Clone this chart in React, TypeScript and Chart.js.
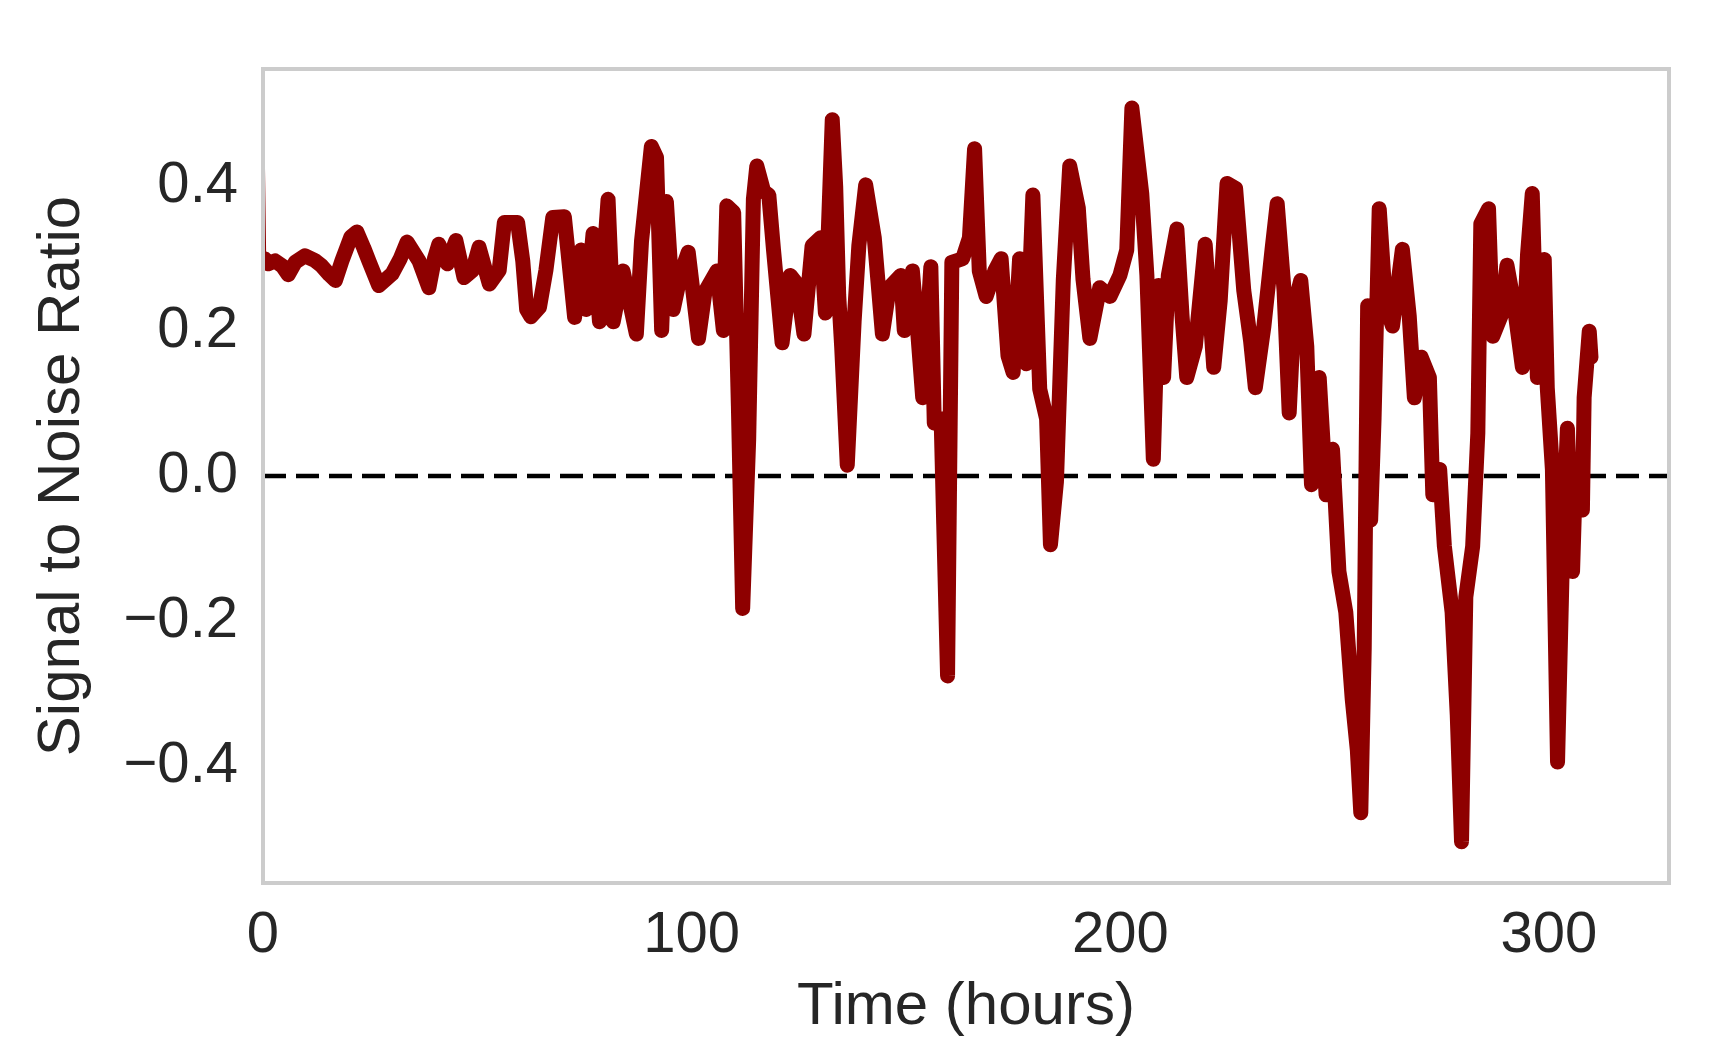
import React, { useEffect, useRef } from 'react';
import { Chart, registerables } from 'chart.js';

Chart.register(...registerables);

// Time in hours (x) and signal-to-noise ratio (y)
const hours = [
  0, 0.4, 1.2, 2.8, 4.5, 5.9, 7.5, 9.8, 12, 13.7, 15.5, 16.9, 18.4, 20.5, 21.9, 23.5, 24.7, 27, 30.1, 32,
  33.6, 36.4, 38.7, 40, 41, 43, 45, 46.9, 48.9, 50.4, 52.8, 55.1, 56.3, 59.4, 60.6, 61.5, 62.5, 64.5, 66, 67.6,
  70.3, 71.1, 72.7, 74.2, 75.4, 77, 78.5, 80.5, 81.7, 84, 87.1, 88.3, 90.6, 91.8, 93, 94.1, 95.7, 97.5, 99.2, 101.6,
  103.1, 105.9, 107.4, 108.2, 109.8, 110.9, 111.9, 113.3, 114.4, 115.2, 116.8, 118, 119.1, 121.1, 123, 124.6, 126.2, 128.1, 130.1, 131.2,
  132.8, 133.6, 134.3, 135, 136.3, 137.9, 139, 140.6, 142.6, 144.5, 146.1, 148.8, 149.6, 151.5, 152.7, 153.9, 155.8, 156.6, 158.2, 158.8,
  159.7, 160.7, 163.2, 164.8, 166, 167.1, 168.7, 170.7, 172.2, 173.8, 175, 176.5, 178.1, 179.6, 181.2, 182.8, 183.7, 185.1, 186.7, 188.2,
  190.2, 191.3, 192.9, 195.2, 197.6, 199.9, 201.5, 202.7, 205, 206.2, 207.7, 208.9, 210.1, 211.2, 213.2, 214.4, 215.5, 217.5, 219.8, 221.8,
  223.3, 224.9, 226.9, 228.8, 230.4, 231.5, 233.5, 235.4, 236.6, 238.2, 239.4, 240.6, 242.1, 243.5, 244.6, 246.4, 248, 249.5, 251, 252.6,
  254.1, 255.3, 256.1, 256.9, 257.7, 258.4, 259.2, 260.4, 261.9, 263.5, 265.8, 267.4, 268.6, 270.2, 272.1, 272.9, 274.5, 275.6, 277.4, 278.6,
  279.6, 280.6, 282.2, 283.4, 284.1, 285.9, 286.9, 288.8, 290.2, 291.9, 293.8, 295, 296.1, 297.3, 298.9, 299.6, 300.8, 302, 303.2, 304.3,
  305.5, 306.3, 307.8, 308.2, 309.4, 309.8,
];

const snr = [
  0.477, 0.3, 0.293, 0.297, 0.29, 0.278, 0.295, 0.304, 0.298, 0.29, 0.278, 0.27, 0.297, 0.33, 0.337, 0.315, 0.297, 0.263, 0.279, 0.3,
  0.323, 0.297, 0.26, 0.3, 0.32, 0.293, 0.325, 0.274, 0.284, 0.316, 0.265, 0.284, 0.35, 0.35, 0.297, 0.23, 0.22, 0.233, 0.284, 0.357,
  0.358, 0.312, 0.219, 0.312, 0.23, 0.335, 0.213, 0.382, 0.213, 0.283, 0.196, 0.324, 0.455, 0.44, 0.201, 0.379, 0.23, 0.28, 0.309, 0.19,
  0.254, 0.283, 0.201, 0.373, 0.364, 0.097, -0.183, 0.05, 0.382, 0.428, 0.393, 0.388, 0.312, 0.184, 0.277, 0.265, 0.196, 0.318, 0.329, 0.225,
  0.492, 0.4, 0.25, 0.178, 0.015, 0.213, 0.318, 0.402, 0.329, 0.196, 0.26, 0.277, 0.201, 0.283, 0.201, 0.108, 0.289, 0.073, 0.079, -0.066,
  -0.276, 0.295, 0.3, 0.329, 0.452, 0.283, 0.248, 0.283, 0.3, 0.166, 0.143, 0.3, 0.155, 0.388, 0.12, 0.079, -0.095, -0.008, 0.271, 0.428,
  0.37, 0.271, 0.19, 0.26, 0.248, 0.277, 0.312, 0.508, 0.39, 0.277, 0.023, 0.263, 0.136, 0.277, 0.341, 0.221, 0.136, 0.179, 0.32, 0.15,
  0.242, 0.404, 0.397, 0.256, 0.186, 0.122, 0.207, 0.313, 0.376, 0.256, 0.087, 0.235, 0.27, 0.179, -0.012, 0.136, -0.026, 0.037, -0.132, -0.188,
  -0.308, -0.379, -0.465, -0.238, 0.235, -0.061, 0.08, 0.369, 0.235, 0.207, 0.313, 0.221, 0.108, 0.164, 0.136, -0.026, 0.009, -0.097, -0.188, -0.33,
  -0.505, -0.167, -0.097, 0.059, 0.348, 0.369, 0.193, 0.221, 0.291, 0.235, 0.15, 0.306, 0.39, 0.136, 0.299, 0.122, 0.009, -0.395, -0.097, 0.066,
  -0.132, 0.023, -0.047, 0.108, 0.2, 0.164,
];

const xTickValues = [0, 100, 200, 300];
const yTickValues = [-0.4, -0.2, 0, 0.2, 0.4];
const xLimits = [0, 328];
const yLimits = [-0.562, 0.562];
const zeroLineHours = [0, 328];
const zeroLineValue = 0;

const FONT = "'Liberation Sans', Arial, Helvetica, sans-serif";
const TEXT = '#262626';

export default function App() {
  const ref = useRef<HTMLCanvasElement>(null);

  useEffect(() => {
    if (!ref.current) return;
    const frame = {
      id: 'frame',
      afterDatasetsDraw(chart: any) {
        const { ctx, chartArea } = chart;
        const { left, top, right, bottom } = chartArea;
        ctx.save();
        ctx.strokeStyle = '#cccccc';
        ctx.lineWidth = 4;
        ctx.strokeRect(left, top, right - left, bottom - top);
        ctx.restore();
      },
    };

    const chart = new Chart(ref.current, {
      type: 'line',
      data: {
        datasets: [
          {
            label: 'Signal to Noise Ratio',
            data: hours.map((h, i) => ({ x: h, y: snr[i] })),
            borderColor: '#8e0000',
            backgroundColor: '#8e0000',
            borderWidth: 15,
            borderJoinStyle: 'round',
            borderCapStyle: 'round',
            pointRadius: 0,
            tension: 0,
            order: 0,
            segment: {
              borderWidth: (ctx: any) => (ctx.p0DataIndex === 0 ? 3 : undefined),
            },
          },
          {
            label: 'zero',
            data: zeroLineHours.map((h) => ({ x: h, y: zeroLineValue })),
            borderColor: '#000000',
            borderWidth: 4.5,
            borderDash: [23, 10],
            pointRadius: 0,
            order: 1,
          },
        ],
      },
      options: {
        animation: false,
        responsive: true,
        maintainAspectRatio: false,
        layout: { padding: { top: 69, right: 44, left: 0, bottom: 0 } },
        plugins: { legend: { display: false }, tooltip: { enabled: false } },
        scales: {
          x: {
            type: 'linear',
            min: xLimits[0],
            max: xLimits[1],
            grid: { display: false, drawTicks: false },
            border: { display: false },
            afterBuildTicks: (s: any) => {
              s.ticks = xTickValues.map((value) => ({ value }));
            },
            afterFit: (s: any) => {
              s.height = 172;
            },
            ticks: {
              autoSkip: false,
              maxRotation: 0,
              padding: 18,
              color: TEXT,
              font: { family: FONT, size: 58 },
              callback: (v: any) => String(v),
            },
            title: {
              display: true,
              text: 'Time (hours)',
              color: TEXT,
              font: { family: FONT, size: 60 },
              padding: { top: 0, bottom: 12 },
            },
          },
          y: {
            type: 'linear',
            min: yLimits[0],
            max: yLimits[1],
            grid: { display: false, drawTicks: false },
            border: { display: false },
            afterBuildTicks: (s: any) => {
              s.ticks = yTickValues.map((value) => ({ value }));
            },
            afterFit: (s: any) => {
              s.width = 263;
            },
            ticks: {
              autoSkip: false,
              padding: 25,
              color: TEXT,
              font: { family: FONT, size: 58 },
              callback: (v: any) => (v < -1e-9 ? '\u2212' : '') + Math.abs(Number(v)).toFixed(1),
            },
            title: {
              display: true,
              text: 'Signal to Noise Ratio',
              color: TEXT,
              font: { family: FONT, size: 60 },
              padding: { top: 26, bottom: 0 },
            },
          },
        },
      },
      plugins: [frame],
    } as any);

    return () => chart.destroy();
  }, []);

  return (
    <div style={{ position: 'fixed', left: 0, top: 0, width: 1713, height: 1055, background: '#ffffff' }}>
      <canvas ref={ref} />
    </div>
  );
}
